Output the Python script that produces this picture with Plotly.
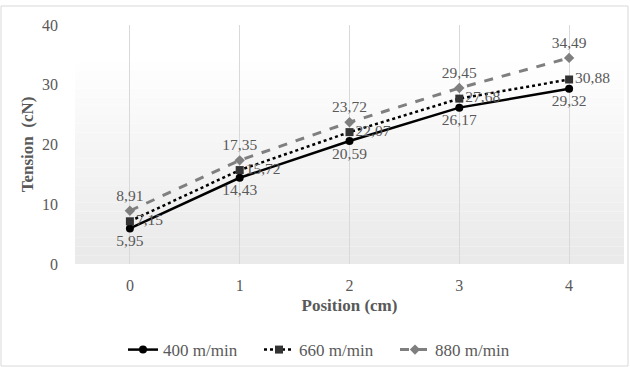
import plotly.graph_objects as go

positions = [0, 1, 2, 3, 4]
tension_400 = [5.95, 14.43, 20.59, 26.17, 29.32]
tension_660 = [7.15, 15.72, 22.07, 27.68, 30.88]
tension_880 = [8.91, 17.35, 23.72, 29.45, 34.49]
series_names = ["400 m/min", "660 m/min", "880 m/min"]
y_ticks = [0, 10, 20, 30, 40]

FONT = "Liberation Serif, Times New Roman, serif"
GREY = "#595959"
LABEL_SIZE = 15.5


def fmt(v):
    return f"{v:.2f}".replace(".", ",")


fig = go.Figure()

fig.add_trace(go.Scatter(
    x=positions, y=tension_400, name=series_names[0],
    mode="lines+markers+text",
    line=dict(color="#000000", width=2.5),
    marker=dict(symbol="circle", size=8, color="#000000"),
    text=[fmt(v) for v in tension_400], textposition="bottom center",
    textfont=dict(family=FONT, size=LABEL_SIZE, color=GREY),
))
fig.add_trace(go.Scatter(
    x=positions, y=tension_660, name=series_names[1],
    mode="lines+markers+text",
    line=dict(color="#000000", width=2.5, dash="dot"),
    marker=dict(symbol="square", size=8, color="#333333"),
    text=[fmt(v) for v in tension_660], textposition="middle right",
    textfont=dict(family=FONT, size=LABEL_SIZE, color=GREY),
))
fig.add_trace(go.Scatter(
    x=positions, y=tension_880, name=series_names[2],
    mode="lines+markers+text",
    line=dict(color="#7f7f7f", width=3, dash="dash"),
    marker=dict(symbol="diamond", size=8, color="#7f7f7f"),
    text=[fmt(v) for v in tension_880], textposition="top center",
    textfont=dict(family=FONT, size=LABEL_SIZE, color=GREY),
))

# soft grey-to-white gradient behind the plot area (paper = plot domain)
W, H = 549, 239  # plot area size in px
shapes = []
n = 24
top = 0.88
for i in range(n):
    t = i / (n - 1)
    c = int(234 + (255 - 234) * t)
    shapes.append(dict(
        type="rect", xref="paper", yref="paper",
        x0=0, x1=1, y0=top * i / n, y1=top * (i + 1) / n,
        fillcolor=f"rgb({c},{c},{c})", line=dict(width=0), layer="below",
    ))
# outer chart border
shapes.append(dict(
    type="rect", xref="paper", yref="paper",
    x0=-74 / W, x1=1 + 4 / W, y0=-102 / H, y1=1 + 19 / H,
    line=dict(color="#d9d9d9", width=1), fillcolor="rgba(255,255,255,0)",
    layer="above",
))
fig.update_layout(shapes=shapes)

fig.update_layout(
    width=630, height=367,
    margin=dict(l=75, r=6, t=25, b=103, autoexpand=False),
    paper_bgcolor="white", plot_bgcolor="white",
    font=dict(family=FONT, color=GREY),
    showlegend=True,
    legend=dict(
        orientation="h", x=48 / W, xanchor="left", y=-0.36, yanchor="middle",
        font=dict(family=FONT, size=17, color=GREY),
        bgcolor="rgba(0,0,0,0)",
        entrywidth=91, entrywidthmode="pixels",
    ),
    xaxis=dict(
        range=[-0.5, 4.5], tickvals=positions,
        ticktext=[str(p) for p in positions],
        showgrid=True, gridcolor="#d9d9d9", gridwidth=1,
        zeroline=False, showline=False, ticks="",
        tickfont=dict(family=FONT, size=16, color=GREY),
        ticklabelstandoff=10,
        title=dict(text="<b>Position (cm)</b>", standoff=6,
                   font=dict(family=FONT, size=17, color=GREY)),
    ),
    yaxis=dict(
        range=[0, 40], tickvals=y_ticks,
        showgrid=False, zeroline=False, showline=False, ticks="",
        tickfont=dict(family=FONT, size=16, color=GREY),
        ticklabelstandoff=16,
        title=dict(text="<b>Tension\u00a0\u00a0(cN)</b>", standoff=4,
                   font=dict(family=FONT, size=17, color=GREY)),
    ),
)

fig.write_html("out.html")
